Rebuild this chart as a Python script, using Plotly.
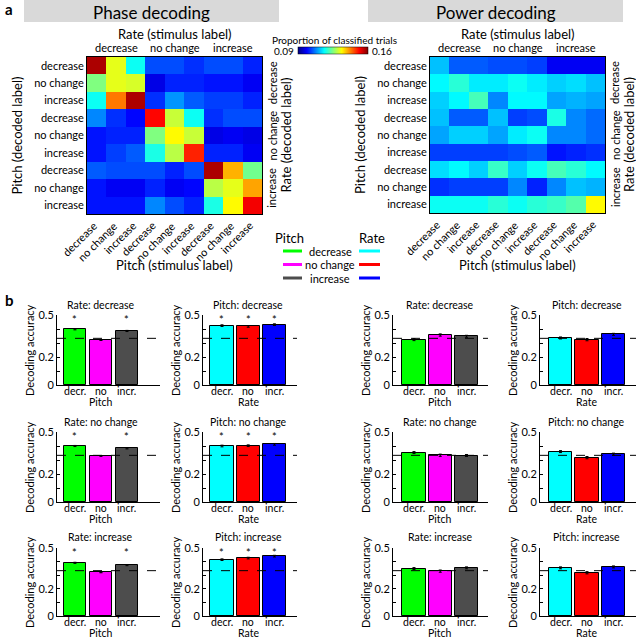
import plotly.graph_objects as go

W, H = 636, 640
FONT = "Lato"

# ---- data ----
levels = ["decrease", "no change", "increase"]
tick9 = levels * 3

phase_conf = [
    [0.157, 0.132, 0.117, 0.104, 0.104, 0.102, 0.104, 0.104, 0.101],
    [0.125, 0.132, 0.131, 0.097, 0.101, 0.101, 0.100, 0.100, 0.098],
    [0.117, 0.143, 0.157, 0.102, 0.109, 0.105, 0.103, 0.103, 0.101],
    [0.108, 0.102, 0.099, 0.151, 0.130, 0.117, 0.102, 0.104, 0.104],
    [0.100, 0.101, 0.101, 0.125, 0.134, 0.130, 0.097, 0.098, 0.097],
    [0.100, 0.103, 0.105, 0.118, 0.129, 0.149, 0.101, 0.101, 0.098],
    [0.105, 0.104, 0.104, 0.104, 0.101, 0.104, 0.157, 0.139, 0.124],
    [0.100, 0.098, 0.098, 0.101, 0.098, 0.099, 0.129, 0.132, 0.140],
    [0.100, 0.100, 0.100, 0.108, 0.104, 0.101, 0.118, 0.134, 0.152],
]
power_conf = [
    [0.112, 0.105, 0.105, 0.104, 0.104, 0.103, 0.098, 0.098, 0.098],
    [0.116, 0.119, 0.115, 0.115, 0.117, 0.115, 0.113, 0.114, 0.112],
    [0.113, 0.116, 0.121, 0.108, 0.116, 0.116, 0.110, 0.111, 0.110],
    [0.112, 0.105, 0.105, 0.112, 0.103, 0.104, 0.118, 0.108, 0.106],
    [0.110, 0.113, 0.113, 0.110, 0.115, 0.117, 0.108, 0.108, 0.106],
    [0.103, 0.103, 0.103, 0.103, 0.104, 0.105, 0.100, 0.101, 0.102],
    [0.114, 0.116, 0.113, 0.120, 0.113, 0.117, 0.121, 0.119, 0.116],
    [0.102, 0.103, 0.103, 0.103, 0.108, 0.101, 0.108, 0.112, 0.111],
    [0.117, 0.117, 0.117, 0.119, 0.117, 0.119, 0.120, 0.122, 0.134],
]

bar_ticks = ["decr.", "no", "incr."]
chance = 1 / 3

phase_rate_dec = [0.398, 0.321, 0.386]
phase_rate_nc = [0.400, 0.329, 0.383]
phase_rate_inc = [0.391, 0.321, 0.374]
phase_pitch_dec = [0.424, 0.419, 0.431]
phase_pitch_nc = [0.400, 0.402, 0.412]
phase_pitch_inc = [0.414, 0.426, 0.440]
phase_rate_err = [0.004, 0.003, 0.004]
phase_pitch_err = [0.006, 0.006, 0.006]

power_rate_dec = [0.324, 0.357, 0.348]
power_rate_nc = [0.353, 0.334, 0.332]
power_rate_inc = [0.349, 0.330, 0.354]
power_pitch_dec = [0.336, 0.324, 0.362]
power_pitch_nc = [0.360, 0.317, 0.342]
power_pitch_inc = [0.354, 0.318, 0.361]
power_err = [0.007, 0.008, 0.007]

phase_rate_sig = [True, False, True]
phase_pitch_sig = [True, True, True]
no_sig = [False, False, False]

pitch_colors = ["#00ff00", "#ff00ff", "#4d4d4d"]
rate_colors = ["#00ffff", "#ff0000", "#0000ff"]

jet = [[0, "#000080"], [0.125, "#0000ff"], [0.375, "#00ffff"],
       [0.625, "#ffff00"], [0.875, "#ff0000"], [1, "#800000"]]


def px(x):
    return x / W


def py(y):
    return 1 - y / H


fig = go.Figure()
annotations = []
shapes = []
layout = {}


def note(text, x, y, size=11, angle=0, xanchor="center", yanchor="middle", bold=False):
    if bold:
        text = "<b>" + text + "</b>"
    annotations.append(dict(text=text, x=px(x), y=py(y), xref="paper", yref="paper",
                            showarrow=False, textangle=angle, xanchor=xanchor,
                            yanchor=yanchor, font=dict(size=size, family=FONT, color="black")))


# ---- panel a: heatmaps ----
def heatmap(idx, z, x0, x1, y0, y1, scale):
    key = "" if idx == 1 else str(idx)
    xa, ya = "x" + key, "y" + key
    tr = go.Heatmap(z=z, x=list(range(9)), y=list(range(9)), colorscale=jet,
                    zmin=0.09, zmax=0.16, xaxis=xa, yaxis=ya, showscale=scale)
    if scale:
        tr.colorbar = dict(orientation="h", x=px(333), xanchor="center", y=py(47),
                           yanchor="top", len=70, lenmode="pixels", thickness=7,
                           xpad=0, ypad=0, showticklabels=False,
                           outlinewidth=0.5, outlinecolor="black")
    fig.add_trace(tr)
    layout["xaxis" + key] = dict(domain=[px(x0), px(x1)], anchor=ya, range=[-0.5, 8.5],
                                 showticklabels=False, automargin=False,
                                 showline=True, mirror=True, linecolor="black", linewidth=1,
                                 ticks="", showgrid=False, zeroline=False)
    layout["yaxis" + key] = dict(domain=[py(y1), py(y0)], anchor=xa, range=[8.5, -0.5],
                                 tickvals=list(range(9)), ticktext=tick9, automargin=False,
                                 showline=True, mirror=True, linecolor="black", linewidth=1,
                                 ticks="", showgrid=False, zeroline=False,
                                 tickfont=dict(size=11, family=FONT, color="black"))
    for k in range(9):
        annotations.append(dict(text=tick9[k], x=k + 0.3, xref=xa, y=py(y1 + 2), yref="paper",
                                showarrow=False, textangle=-45, xanchor="right", yanchor="top",
                                font=dict(size=11, family=FONT, color="black")))
    cx = (x0 + x1) / 2
    cy = (y0 + y1) / 2
    gw = (x1 - x0) / 3
    gh = (y1 - y0) / 3
    note("Rate (stimulus label)", cx, 34, size=13)
    note("Pitch (stimulus label)", cx, 265, size=13)
    for i, lab in enumerate(levels):
        note(lab, x0 + gw * (i + 0.5), 48, size=11)
        note(lab, x1 + 10, y0 + gh * (i + 0.5), size=11, angle=-90)
    note("Pitch (decoded label)", x0 - 70, cy, size=13, angle=-90)
    note("Rate (decoded label)", x1 + 24, cy, size=13, angle=-90)


heatmap(1, phase_conf, 87, 262, 57, 214, True)
heatmap(2, power_conf, 430, 605, 57, 213, False)

# title boxes
for x0, x1, t in [(24, 279, "Phase decoding"), (368, 623, "Power decoding")]:
    shapes.append(dict(type="rect", xref="paper", yref="paper", x0=px(x0), x1=px(x1),
                       y0=py(22), y1=py(0), fillcolor="#d9d9d9", line=dict(width=0)))
    note(t, (x0 + x1) / 2, 12, size=17)

note("a", 3, 9, size=15, xanchor="left", bold=True)
note("b", 3, 300, size=15, xanchor="left", bold=True)

# colorbar labels
note("Proportion of classified trials", 334, 40, size=10)
note("0.09", 296, 51, size=10, xanchor="right")
note("0.16", 370, 51, size=10, xanchor="left")

# legend
note("Pitch", 289, 238, size=13)
note("Rate", 372, 238, size=13)
for i, lab in enumerate(levels):
    yy = 251 + i * 13.5
    note(lab, 330, yy, size=11)
    shapes.append(dict(type="line", xref="paper", yref="paper", x0=px(283), x1=px(302),
                       y0=py(yy), y1=py(yy), line=dict(color=pitch_colors[i], width=3)))
    shapes.append(dict(type="line", xref="paper", yref="paper", x0=px(359), x1=px(380),
                       y0=py(yy), y1=py(yy), line=dict(color=rate_colors[i], width=3)))

# ---- panel b: bar charts ----
cols = [  # axis x0, x1, range
    (57, 160, [0.31, 4.27]),
    (203, 297, [0.276, 3.86]),
    (393, 488, [0.2, 3.82]),
    (540, 636, [0.226, 3.85]),
]
rows = [(315, 385, 305), (432, 502, 422), (548, 616, 537)]

panels = [
    # row, col, title, values, errors, colors, xlabel, sig
    (0, 0, "Rate: decrease", phase_rate_dec, phase_rate_err, pitch_colors, "Pitch", phase_rate_sig),
    (0, 1, "Pitch: decrease", phase_pitch_dec, phase_pitch_err, rate_colors, "Rate", phase_pitch_sig),
    (1, 0, "Rate: no change", phase_rate_nc, phase_rate_err, pitch_colors, "Pitch", phase_rate_sig),
    (1, 1, "Pitch: no change", phase_pitch_nc, phase_pitch_err, rate_colors, "Rate", phase_pitch_sig),
    (2, 0, "Rate: increase", phase_rate_inc, phase_rate_err, pitch_colors, "Pitch", phase_rate_sig),
    (2, 1, "Pitch: increase", phase_pitch_inc, phase_pitch_err, rate_colors, "Rate", phase_pitch_sig),
    (0, 2, "Rate: decrease", power_rate_dec, power_err, pitch_colors, "Pitch", no_sig),
    (0, 3, "Pitch: decrease", power_pitch_dec, power_err, rate_colors, "Rate", no_sig),
    (1, 2, "Rate: no change", power_rate_nc, power_err, pitch_colors, "Pitch", no_sig),
    (1, 3, "Pitch: no change", power_pitch_nc, power_err, rate_colors, "Rate", no_sig),
    (2, 2, "Rate: increase", power_rate_inc, power_err, pitch_colors, "Pitch", no_sig),
    (2, 3, "Pitch: increase", power_pitch_inc, power_err, rate_colors, "Rate", no_sig),
]

for n, (r, c, title, vals, errs, colors, xlab, sig) in enumerate(panels):
    idx = n + 3
    xa, ya = "x%d" % idx, "y%d" % idx
    x0, x1, xr = cols[c]
    y0, y1, ty = rows[r]
    fig.add_trace(go.Bar(x=[1, 2, 3], y=vals, width=0.88, xaxis=xa, yaxis=ya,
                         marker=dict(color=colors, line=dict(color="black", width=1)),
                         error_y=dict(type="data", array=errs, color="black",
                                      thickness=1, width=1.5),
                         showlegend=False))
    layout["xaxis%d" % idx] = dict(domain=[px(x0), px(x1)], anchor=ya, range=xr,
                                   showticklabels=False, ticks="", automargin=False,
                                   showline=True, linecolor="black", linewidth=1,
                                   showgrid=False, zeroline=False)
    layout["yaxis%d" % idx] = dict(domain=[py(y1), py(y0)], anchor=xa, range=[0, 0.5],
                                   tickvals=[0, 0.1, 0.2, 0.3, 0.4, 0.5],
                                   ticktext=["0", "", "0.2", "", "", "0.5"],
                                   ticks="inside", ticklen=3, tickcolor="black",
                                   automargin=False,
                                   showline=True, linecolor="black", linewidth=1,
                                   showgrid=False, zeroline=False,
                                   tickfont=dict(size=11, family=FONT, color="black"))
    shapes.append(dict(type="line", xref="%s domain" % xa, yref=ya, x0=0, x1=1,
                       y0=chance, y1=chance, line=dict(color="black", width=1, dash="dash")))
    mid = x0 + (2 - xr[0]) / (xr[1] - xr[0]) * (x1 - x0)
    note(title, mid, ty, size=10.5)
    note(xlab, mid, y1 + 17, size=10.5)
    note("Decoding accuracy", x0 - 28, (y0 + y1) / 2, size=11, angle=-90)
    for k in range(3):
        annotations.append(dict(text=bar_ticks[k], x=k + 1, xref=xa, y=py(y1 + 6), yref="paper",
                                showarrow=False, yanchor="middle",
                                font=dict(size=10.5, family=FONT, color="black")))
        if sig[k]:
            annotations.append(dict(text="*", x=k + 1, y=0.465, xref=xa, yref=ya,
                                    showarrow=False, yanchor="middle",
                                    font=dict(size=11, family=FONT, color="black")))

fig.update_layout(template="none", width=W, height=H, autosize=False,
                  margin=dict(l=0, r=0, t=0, b=0, pad=0),
                  plot_bgcolor="white", paper_bgcolor="white", showlegend=False,
                  bargap=0, annotations=annotations, shapes=shapes, **layout)

fig.write_html("out.html", config={"displayModeBar": False},
               post_script="document.body.style.margin='0';")
